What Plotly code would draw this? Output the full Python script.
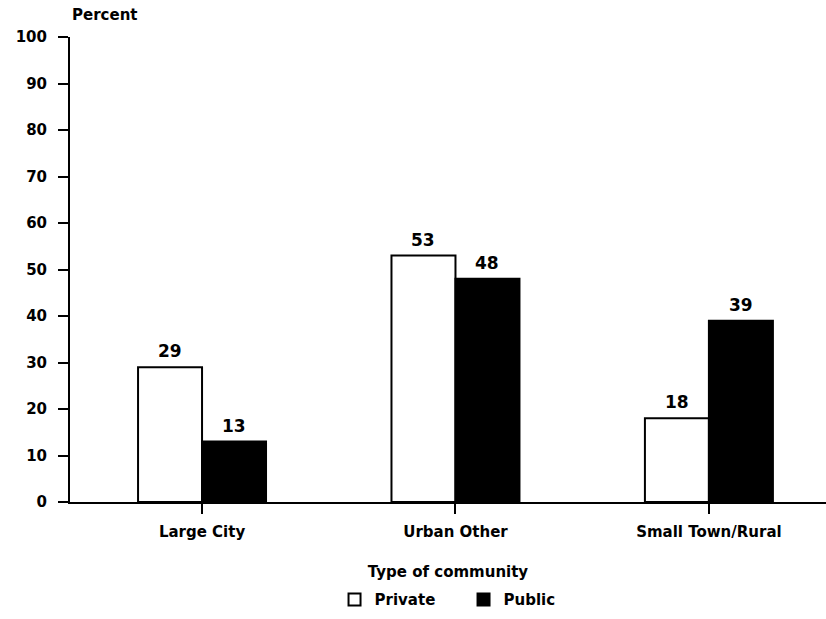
import plotly.graph_objects as go

categories = ["Large City", "Urban Other", "Small Town/Rural"]
private_pct = [29, 53, 18]
public_pct = [13, 48, 39]
y_ticks = [0, 10, 20, 30, 40, 50, 60, 70, 80, 90, 100]

FONT = "DejaVu Sans, Liberation Sans, Arial, sans-serif"


def bold(size):
    return dict(family=FONT, size=size, color="black", weight="bold")


fig = go.Figure()
fig.add_trace(go.Bar(
    name="Private", x=categories, y=private_pct,
    marker=dict(color="white", line=dict(color="black", width=2)),
))
fig.add_trace(go.Bar(
    name="Public", x=categories, y=public_pct,
    marker=dict(color="black", line=dict(color="black", width=2)),
))

# value labels above each bar, offset left/right to sit over its bar in the group
labels = []
for series, shift in ((private_pct, -32), (public_pct, 32)):
    for cat, val in zip(categories, series):
        labels.append(dict(
            x=cat, y=val, xref="x", yref="y", text=str(val),
            xshift=shift, yshift=4, yanchor="bottom", showarrow=False,
            font=bold(17),
        ))

labels.append(dict(
    text="Percent", xref="paper", yref="paper", x=0, y=1,
    xanchor="left", yanchor="bottom", yshift=11, showarrow=False,
    font=bold(15),
))

fig.update_layout(
    width=826, height=619,
    margin=dict(l=70, r=0, t=37, b=117, autoexpand=False),
    paper_bgcolor="white", plot_bgcolor="white",
    barmode="group", bargap=0.495, bargroupgap=0,
    font=bold(15),
    showlegend=True,
    legend=dict(
        orientation="h", xref="container", yref="container",
        x=0.405, xanchor="left", y=0.031, yanchor="middle",
        font=bold(15), itemwidth=30, traceorder="normal",
        entrywidth=84, entrywidthmode="pixels",
    ),
    xaxis=dict(
        type="category", range=[-0.521, 2.462],
        showline=True, linecolor="black", linewidth=2,
        ticks="outside", ticklen=10, tickwidth=2, tickcolor="black",
        showgrid=False, zeroline=False, automargin=False,
        tickfont=bold(15), ticklabelstandoff=5,
        title=dict(text="Type of community", standoff=26, font=bold(15)),
    ),
    yaxis=dict(
        range=[0, 100], tickvals=y_ticks,
        showline=True, linecolor="black", linewidth=2,
        ticks="outside", ticklen=10, tickwidth=2, tickcolor="black",
        showgrid=False, zeroline=False, automargin=False,
        tickfont=bold(15), ticklabelstandoff=8,
    ),
    annotations=labels,
)

fig.write_html("out.html")
